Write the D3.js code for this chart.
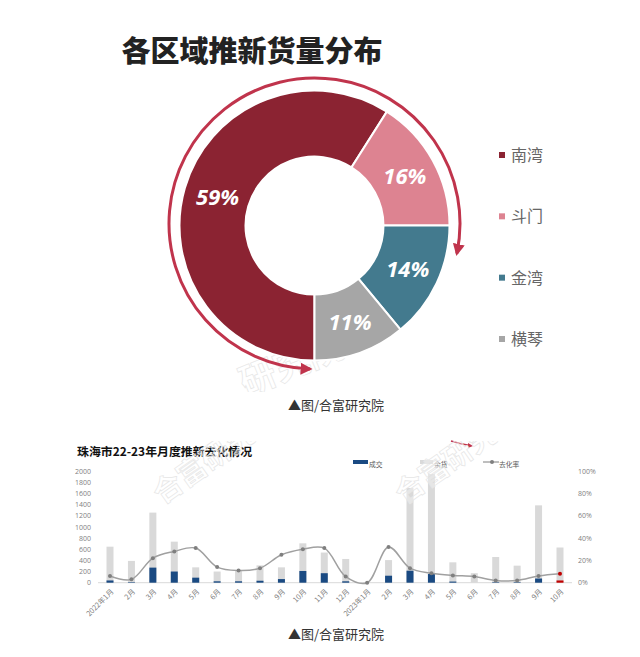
<!DOCTYPE html>
<html>
<head>
<meta charset="utf-8">
<script src="https://cdnjs.cloudflare.com/ajax/libs/d3/7.8.5/d3.min.js"></script>
<style>
	html, body { margin: 0; padding: 0; background: #fff; }
	svg { display: block; font-family: "Noto Sans CJK SC", "Open Sans", sans-serif; }
</style>
</head>
<body>
<svg id="chart" width="640" height="657"></svg>
<script>
var regions = ["南湾", "斗门", "金湾", "横琴"];
var shares = [59, 16, 14, 11];
var regionColors = ["#8b2332", "#dd8391", "#437a8e", "#a6a6a6"];

var months = ["2022年1月", "2月", "3月", "4月", "5月", "6月", "7月", "8月", "9月", "10月", "11月", "12月",
	"2023年1月", "2月", "3月", "4月", "5月", "6月", "7月", "8月", "9月", "10月"];
var sold = [40, 10, 270, 200, 90, 25, 25, 35, 65, 210, 170, 25, 0, 125, 215, 155, 20, 0, 10, 10, 75, 40];
var stock = [645, 390, 1255, 735, 275, 200, 215, 310, 275, 705, 540, 425, 0, 405, 1695, 1945, 365, 170, 460, 305, 1385, 630];
var rate = [6, 3, 22, 28, 31, 14, 11, 13, 25, 30, 31, 5.5, 0, 32, 13, 8.5, 6.5, 5.5, 2, 2, 6, 8];

var leftTicks = [0, 200, 400, 600, 800, 1000, 1200, 1400, 1600, 1800, 2000];
var rightTicks = [0, 20, 40, 60, 80, 100];

var svg = d3.select("#chart");
var defs = svg.append("defs");

// the top watermark sits behind the donut, so it goes first
drawWatermark(246, 396, "研究院", -22, 36, "clipTop", 0, 392);
drawDonut();
drawCombo();
drawWatermark(162, 505, "合富研究院", -35, 29, "clipLeft", 441, 620);
drawWatermark(404, 505, "合富研究院", -35, 29, "clipRight", 441, 620);

function drawDonut() {

	var cx = 314.5, cy = 225.6;
	var red = "#c0344c";

	svg.append("text")
		.attr("x", 252).attr("y", 62)
		.attr("text-anchor", "middle")
		.attr("font-size", 29).attr("font-weight", 900)
		.attr("fill", "#222")
		.text("各区域推新货量分布");

	var pie = d3.pie().sort(null)
		.startAngle(Math.PI)
		.endAngle(3 * Math.PI);

	var arc = d3.arc().innerRadius(69).outerRadius(135);

	var g = svg.append("g").attr("transform", "translate(" + cx + "," + cy + ")");

	g.selectAll("path")
		.data(pie(shares))
		.enter()
		.append("path")
		.attr("d", arc)
		.attr("fill", (d, i) => regionColors[i])
		.attr("stroke", "#fff")
		.attr("stroke-width", 2);

	g.selectAll("text")
		.data(pie(shares))
		.enter()
		.append("text")
		.attr("x", d => arc.centroid(d)[0] + 1)
		.attr("y", d => arc.centroid(d)[1] - 1)
		.attr("text-anchor", "middle")
		.attr("dominant-baseline", "central")
		.attr("font-family", "Open Sans")
		.attr("font-size", 22)
		.attr("font-style", "italic")
		.attr("font-weight", 700)
		.attr("fill", "#fff")
		.text(d => d.data + "%");

	// arrow ring around the donut
	defs.append("marker")
		.attr("id", "head")
		.attr("markerUnits", "userSpaceOnUse")
		.attr("viewBox", "0 0 10 10")
		.attr("refX", 8).attr("refY", 5)
		.attr("markerWidth", 12).attr("markerHeight", 12)
		.attr("orient", "auto-start-reverse")
		.append("path")
		.attr("d", "M0,0L10,5L0,10Z")
		.attr("fill", red);

	svg.append("path")
		.attr("d", ringPath(cx, 223.5, 145.5))
		.attr("fill", "none")
		.attr("stroke", red)
		.attr("stroke-width", 3)
		.attr("marker-start", "url(#head)")
		.attr("marker-end", "url(#head)");

	var legendY = d3.scalePoint().domain(regions).range([155, 339]);

	var legend = svg.selectAll(".legend")
		.data(regions)
		.enter()
		.append("g")
		.attr("class", "legend")
		.attr("transform", d => "translate(502," + legendY(d) + ")");

	legend.append("rect")
		.attr("x", -3).attr("y", -3)
		.attr("width", 6).attr("height", 6)
		.attr("fill", (d, i) => regionColors[i]);

	legend.append("text")
		.attr("x", 9).attr("y", -1)
		.attr("dominant-baseline", "central")
		.attr("font-size", 16)
		.attr("fill", "#666")
		.text(d => d);

	svg.append("text")
		.attr("x", 336).attr("y", 410)
		.attr("text-anchor", "middle")
		.attr("font-size", 13).attr("fill", "#333")
		.text("▲图/合富研究院");
}

function ringPath(x, y, r) {
	// runs from the head at the bottom, clockwise over the top, to the head on the right
	var p = d3.path();
	var a0 = Math.PI / 2 + 0.03;
	var a1 = 2 * Math.PI + 0.208;
	p.moveTo(x + r * Math.cos(a0), y + r * Math.sin(a0));
	p.arc(x, y, r, a0, a1, false);
	return p.toString();
}

function drawCombo() {

	var xScale = d3.scalePoint().domain(d3.range(months.length)).range([110, 560]);
	var yLeft = d3.scaleLinear().domain([0, 2000]).range([582.7, 471]);
	var yRight = d3.scaleLinear().domain([0, 100]).range([582.7, 471]);
	var barW = 7;
	var tickGrey = "#7f7f7f";

	svg.append("text")
		.attr("x", 77).attr("y", 456)
		.attr("font-size", 11.9).attr("font-weight", 700)
		.attr("fill", "#111")
		.text("珠海市22-23年月度推新去化情况");

	svg.append("line")
		.attr("x1", 98).attr("x2", 572)
		.attr("y1", yLeft(0)).attr("y2", yLeft(0))
		.attr("stroke", "#d9d9d9");

	var leftAxis = d3.axisLeft(yLeft).tickValues(leftTicks).tickSize(0).tickFormat(d3.format("d"));
	var rightAxis = d3.axisRight(yRight).tickValues(rightTicks).tickSize(0).tickFormat(d => d + "%");

	svg.append("g").attr("class", "ax").attr("transform", "translate(94,0)").call(leftAxis);
	svg.append("g").attr("class", "ax").attr("transform", "translate(575,0)").call(rightAxis);
	svg.selectAll(".ax .domain").remove();
	svg.selectAll(".ax text")
		.attr("font-family", "Open Sans")
		.attr("font-size", 7)
		.attr("fill", tickGrey);

	svg.selectAll(".stock")
		.data(stock)
		.enter()
		.append("rect")
		.attr("class", "stock")
		.attr("x", (d, i) => xScale(i) - barW / 2)
		.attr("y", d => yLeft(d))
		.attr("width", barW)
		.attr("height", d => yLeft(0) - yLeft(d))
		.attr("fill", "#d9d9d9");

	svg.selectAll(".sold")
		.data(sold)
		.enter()
		.append("rect")
		.attr("class", "sold")
		.attr("x", (d, i) => xScale(i) - barW / 2)
		.attr("y", d => yLeft(d))
		.attr("width", barW)
		.attr("height", d => yLeft(0) - yLeft(d))
		.attr("fill", (d, i) => i == sold.length - 1 ? "#c00000" : "#1a4a82");

	var line = d3.line()
		.x((d, i) => xScale(i))
		.y(d => yRight(d))
		.curve(d3.curveCatmullRom.alpha(0.5));

	svg.append("path")
		.datum(rate)
		.attr("d", line)
		.attr("fill", "none")
		.attr("stroke", "#a0a0a0")
		.attr("stroke-width", 1.5);

	svg.selectAll(".dot")
		.data(rate)
		.enter()
		.append("circle")
		.attr("class", "dot")
		.attr("cx", (d, i) => xScale(i))
		.attr("cy", d => yRight(d))
		.attr("r", 2)
		.attr("fill", (d, i) => i == rate.length - 1 ? "#c00000" : "#7f7f7f");

	svg.selectAll(".month")
		.data(months)
		.enter()
		.append("text")
		.attr("class", "month")
		.attr("transform", (d, i) => "translate(" + (xScale(i) + 2) + ",590) rotate(-45)")
		.attr("text-anchor", "end")
		.attr("dominant-baseline", "central")
		.attr("font-size", 7.3)
		.attr("fill", tickGrey)
		.text(d => d);

	// legend
	svg.append("rect").attr("x", 353).attr("y", 460).attr("width", 15).attr("height", 4).attr("fill", "#1a4a82");
	svg.append("rect").attr("x", 420).attr("y", 460).attr("width", 13).attr("height", 4).attr("fill", "#d9d9d9");
	svg.append("line").attr("x1", 483).attr("x2", 499).attr("y1", 462).attr("y2", 462).attr("stroke", "#7f7f7f");
	svg.append("circle").attr("cx", 492).attr("cy", 462).attr("r", 2).attr("fill", "#7f7f7f");

	var legendText = [["成交", 369], ["余货", 434], ["去化率", 499]];
	svg.selectAll(".lg")
		.data(legendText)
		.enter()
		.append("text")
		.attr("class", "lg")
		.attr("x", d => d[1]).attr("y", 464)
		.attr("dominant-baseline", "central")
		.attr("font-size", 6.8)
		.attr("fill", "#595959")
		.text(d => d[0]);

	// tip of an arrow cropped from the picture above
	svg.append("path")
		.attr("d", "M451,441Q460,444 470,445.5")
		.attr("fill", "none")
		.attr("stroke", "#c0344c")
		.attr("stroke-width", 1.5);
	svg.append("path").attr("d", "M468,443L473,446L468,448Z").attr("fill", "#c0344c");

	svg.append("text")
		.attr("x", 336).attr("y", 639)
		.attr("text-anchor", "middle")
		.attr("font-size", 13).attr("fill", "#333")
		.text("▲图/合富研究院");
}

function drawWatermark(x, y, label, angle, size, id, top, bottom) {

	defs.append("clipPath").attr("id", id)
		.append("rect")
		.attr("x", 0).attr("y", top)
		.attr("width", 640).attr("height", bottom - top);

	svg.append("g")
		.attr("clip-path", "url(#" + id + ")")
		.append("text")
		.attr("transform", "translate(" + x + "," + y + ") rotate(" + angle + ")")
		.attr("font-size", size)
		.attr("font-weight", 700)
		.attr("fill", "#fff")
		.attr("fill-opacity", 0.35)
		.attr("stroke", "#e6e6e6")
		.attr("stroke-width", 0.7)
		.text(label);
}
</script>
</body>
</html>
